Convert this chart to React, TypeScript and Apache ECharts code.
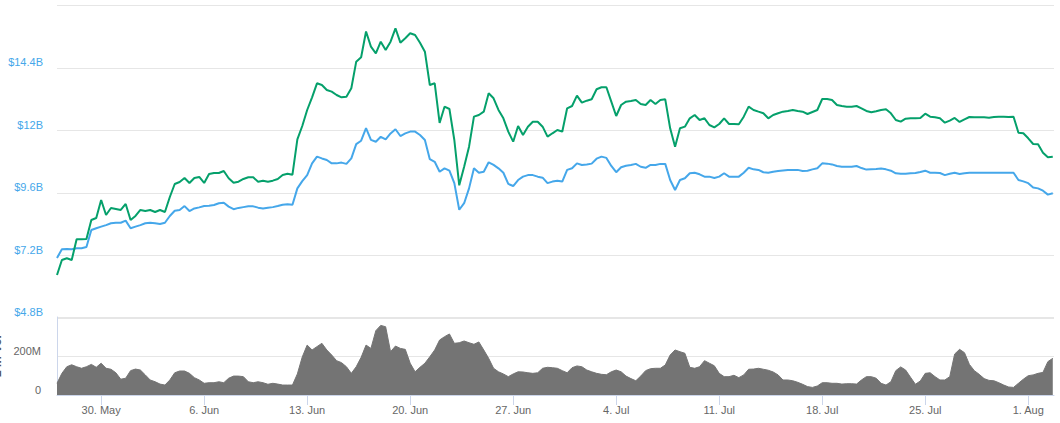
import React, { useEffect, useRef } from "react";
import * as echarts from "echarts";

// Time range: 27 May 2016 00:00 UTC, one sample every 8 hours
const START = Date.UTC(2016, 4, 27, 0, 0);
const STEP_MS = 8 * 3600 * 1000;
const END = Date.UTC(2016, 7, 2, 18, 0);

// Market cap, billions USD (left axis)
const marketCapB = [
  7.10, 7.43, 7.44, 7.43, 7.47, 7.47, 7.52, 8.17, 8.24, 8.30,
  8.36, 8.43, 8.45, 8.45, 8.53, 8.24, 8.30, 8.36, 8.43, 8.45,
  8.43, 8.40, 8.45, 8.71, 8.91, 8.94, 9.09, 8.90, 9.00, 9.04,
  9.09, 9.10, 9.13, 9.20, 9.22, 9.07, 8.97, 9.02, 9.05, 9.08,
  9.08, 9.03, 9.00, 9.03, 9.05, 9.09, 9.14, 9.16, 9.14, 9.77,
  10.05, 10.28, 10.73, 10.99, 10.92, 10.86, 10.73, 10.73, 10.76, 10.71,
  10.92, 11.47, 11.60, 12.08, 11.63, 11.56, 11.75, 11.65, 11.88, 12.04,
  11.78, 11.88, 11.95, 11.95, 11.82, 11.63, 10.89, 10.79, 10.41, 10.54,
  10.45, 9.97, 8.95, 9.20, 9.77, 10.54, 10.37, 10.41, 10.77, 10.67,
  10.54, 10.37, 9.94, 9.86, 10.09, 10.22, 10.28, 10.28, 10.22, 10.18,
  9.97, 10.03, 10.06, 10.03, 10.48, 10.54, 10.73, 10.67, 10.69, 10.72,
  10.91, 10.99, 10.94, 10.63, 10.39, 10.58, 10.64, 10.67, 10.71, 10.60,
  10.56, 10.67, 10.67, 10.71, 10.71, 10.09, 9.71, 10.09, 10.16, 10.35,
  10.37, 10.31, 10.22, 10.22, 10.17, 10.22, 10.35, 10.22, 10.22, 10.22,
  10.37, 10.56, 10.50, 10.48, 10.39, 10.37, 10.41, 10.44, 10.46, 10.48,
  10.48, 10.48, 10.44, 10.45, 10.50, 10.54, 10.73, 10.72, 10.69, 10.63,
  10.60, 10.60, 10.60, 10.63, 10.55, 10.49, 10.50, 10.51, 10.53, 10.50,
  10.45, 10.35, 10.33, 10.33, 10.35, 10.36, 10.40, 10.45, 10.37, 10.37,
  10.36, 10.28, 10.33, 10.37, 10.32, 10.35, 10.37, 10.37, 10.37, 10.37,
  10.37, 10.37, 10.37, 10.37, 10.37, 10.37, 10.09, 10.04, 9.97, 9.80,
  9.77, 9.68, 9.53, 9.58,
];

// Price, USD (hidden right axis)
const priceUsd = [
  368.5, 392.5, 395.2, 392.5, 425.6, 425.6, 426.1, 456.5, 459.7, 488.5,
  464.5, 475.7, 474.1, 472.5, 482.1, 456.5, 462.9, 472.5, 470.9, 472.5,
  469.3, 472.5, 469.3, 493.3, 514.1, 517.3, 523.7, 515.7, 523.7, 525.3,
  515.7, 530.1, 531.7, 531.7, 534.9, 523.2, 516.2, 517.8, 522.1, 524.8,
  524.8, 517.8, 519.4, 517.8, 519.4, 522.1, 528.5, 530.6, 529.0, 585.6,
  606.9, 632.5, 652.8, 675.2, 672.5, 664.5, 661.8, 656.5, 652.8, 653.8,
  667.2, 709.8, 716.8, 758.0, 733.8, 723.2, 741.8, 728.5, 741.8, 763.2,
  740.2, 747.2, 755.2, 752.5, 740.2, 725.8, 672.5, 675.2, 611.7, 637.8,
  634.1, 584.5, 512.0, 541.8, 573.8, 621.8, 624.5, 629.8, 659.2, 651.2,
  632.5, 619.2, 597.8, 581.8, 606.9, 592.5, 605.8, 613.8, 613.8, 605.8,
  589.8, 595.2, 600.5, 597.8, 635.2, 638.9, 655.4, 644.2, 647.4, 649.6,
  665.6, 668.8, 668.8, 645.8, 622.9, 640.5, 645.8, 646.9, 648.5, 642.1,
  640.5, 648.5, 642.1, 648.5, 649.6, 603.2, 573.8, 603.2, 605.8, 619.2,
  624.5, 616.5, 619.2, 608.5, 604.8, 610.1, 619.2, 610.1, 610.1, 609.6,
  621.8, 637.8, 632.5, 629.8, 627.2, 619.2, 624.5, 627.2, 629.8, 630.9,
  632.5, 630.9, 629.8, 626.1, 629.3, 632.5, 650.1, 650.1, 648.5, 640.5,
  638.9, 637.8, 637.8, 638.9, 635.2, 630.9, 628.8, 630.4, 632.5, 633.6,
  627.2, 616.5, 613.8, 618.6, 619.2, 619.2, 619.7, 626.6, 621.8, 620.8,
  619.2, 612.2, 615.4, 619.7, 613.3, 617.6, 621.3, 620.8, 620.8, 620.8,
  620.2, 621.3, 621.8, 621.8, 621.3, 621.8, 596.2, 595.2, 587.2, 578.1,
  577.6, 564.2, 556.8, 557.8,
];

// 24h volume, millions USD
const volumeM = [
  60, 111, 145, 155, 145, 137, 145, 157, 142, 163,
  137, 132, 114, 81, 86, 125, 133, 128, 103, 77,
  68, 56, 51, 77, 114, 123, 123, 111, 89, 77,
  60, 63, 63, 68, 63, 86, 97, 97, 94, 68,
  63, 68, 63, 55, 60, 56, 51, 51, 51, 108,
  195, 256, 231, 248, 265, 231, 205, 176, 166, 145,
  111, 145, 193, 256, 239, 330, 357, 350, 222, 251,
  239, 234, 163, 119, 142, 163, 196, 231, 282, 299,
  313, 265, 268, 277, 268, 260, 272, 231, 188, 137,
  119, 108, 94, 108, 119, 118, 114, 111, 114, 137,
  142, 140, 137, 125, 114, 140, 149, 145, 128, 119,
  111, 106, 104, 119, 128, 119, 97, 84, 73, 97,
  125, 135, 137, 137, 154, 205, 231, 222, 214, 142,
  137, 145, 176, 163, 150, 111, 94, 94, 101, 89,
  103, 132, 133, 137, 132, 127, 118, 103, 77, 77,
  73, 65, 55, 43, 39, 46, 63, 63, 60, 60,
  56, 58, 58, 56, 77, 94, 94, 86, 60, 51,
  68, 125, 144, 128, 91, 55, 72, 111, 114, 94,
  77, 77, 94, 210, 234, 217, 157, 125, 106, 84,
  75, 73, 63, 51, 41, 39, 60, 81, 99, 103,
  111, 116, 171, 188,
];

// Weekly x-axis ticks
const tickDates = [
  [2016, 4, 30], [2016, 5, 6], [2016, 5, 13], [2016, 5, 20], [2016, 5, 27],
  [2016, 6, 4], [2016, 6, 11], [2016, 6, 18], [2016, 6, 25], [2016, 7, 1],
];
const tickLabels = [
  "30. May", "6. Jun", "13. Jun", "20. Jun", "27. Jun",
  "4. Jul", "11. Jul", "18. Jul", "25. Jul", "1. Aug",
];

const BLUE = "#45a7ea";
const GREEN = "#05a06b";
const GRAY = "#747474";
const FONT = "'Liberation Sans', Arial, sans-serif";

export default function App() {
  const ref = useRef<HTMLDivElement>(null);

  useEffect(() => {
    if (!ref.current) return;
    const chart = echarts.init(ref.current, undefined, { renderer: "svg" });
    const times = marketCapB.map((_, i) => START + i * STEP_MS);
    const tickValues = tickDates.map((d) => Date.UTC(d[0], d[1], d[2]));
    const labelFor = (v: any) => {
      const t = typeof v === "number" ? v : Number(v);
      let best = 0;
      let bd = Infinity;
      tickValues.forEach((tv, i) => {
        const d = Math.abs(tv - t);
        if (d < bd) { bd = d; best = i; }
      });
      return bd < 12 * 3600 * 1000 ? tickLabels[best] : "";
    };

    chart.setOption({
      animation: false,
      textStyle: { fontFamily: FONT },
      grid: [
        { left: 57, right: 6, top: 5.3, height: 312.5, containLabel: false, outerBoundsMode: "none" },
        { left: 57, right: 6, top: 317, height: 78, containLabel: false, outerBoundsMode: "none" },
      ],
      xAxis: [
        { type: "value", gridIndex: 0, min: START, max: END, show: false },
        {
          type: "value",
          gridIndex: 1,
          min: START,
          max: END,
          axisLine: { show: true, lineStyle: { color: "#ccd6eb", width: 1 } },
          axisTick: {
            show: true,
            customValues: tickValues,
            length: 10,
            lineStyle: { color: "#ccd6eb" },
          },
          axisLabel: {
            customValues: tickValues,
            formatter: labelFor,
            color: "#666666",
            fontSize: 11,
            margin: 9,
            fontFamily: FONT,
          },
          splitLine: { show: false },
        },
      ],
      yAxis: [
        {
          type: "value",
          gridIndex: 0,
          min: 4.8,
          max: 16.8,
          interval: 2.4,
          axisLine: { show: false },
          axisTick: { show: false },
          splitLine: { lineStyle: { color: "#e6e6e6", width: 1 } },
          axisLabel: {
            showMaxLabel: false,
            color: BLUE,
            fontSize: 11,
            margin: 14,
            verticalAlign: "bottom",
            fontFamily: FONT,
            formatter: (v: number) => "$" + Number(v.toFixed(1)) + "B",
          },
        },
        { type: "value", gridIndex: 0, min: 300, max: 800, show: false },
        {
          type: "value",
          gridIndex: 1,
          min: 0,
          max: 400,
          interval: 200,
          name: "24h Vol",
          nameLocation: "middle",
          nameRotate: 90,
          nameGap: 43,
          nameTextStyle: { fontWeight: "bold", fontSize: 12, color: "#555555", fontFamily: FONT },
          axisLine: { show: true, lineStyle: { color: "#ccd6eb" } },
          axisTick: { show: false },
          splitLine: { lineStyle: { color: "#e6e6e6", width: 1 } },
          axisLabel: {
            showMaxLabel: false,
            color: "#666666",
            fontSize: 11,
            margin: 16,
            verticalAlign: "bottom",
            fontFamily: FONT,
            formatter: (v: number) => (v === 0 ? "0" : v + "M"),
          },
        },
      ],
      series: [
        {
          name: "Market Cap",
          type: "line",
          xAxisIndex: 0,
          yAxisIndex: 0,
          data: times.map((t, i) => [t, marketCapB[i]]),
          showSymbol: false,
          lineStyle: { color: BLUE, width: 2 },
          itemStyle: { color: BLUE },
        },
        {
          name: "Price (USD)",
          type: "line",
          xAxisIndex: 0,
          yAxisIndex: 1,
          data: times.map((t, i) => [t, priceUsd[i]]),
          showSymbol: false,
          lineStyle: { color: GREEN, width: 2 },
          itemStyle: { color: GREEN },
        },
        {
          name: "24h Vol",
          type: "line",
          xAxisIndex: 1,
          yAxisIndex: 2,
          data: times.map((t, i) => [t, volumeM[i]]),
          showSymbol: false,
          lineStyle: { color: GRAY, width: 1 },
          itemStyle: { color: GRAY },
          areaStyle: { color: GRAY, opacity: 1 },
        },
      ],
    });

    return () => chart.dispose();
  }, []);

  return (
    <div
      ref={ref}
      style={{ position: "fixed", left: 0, top: 0, width: 1060, height: 423, background: "#ffffff" }}
    />
  );
}
